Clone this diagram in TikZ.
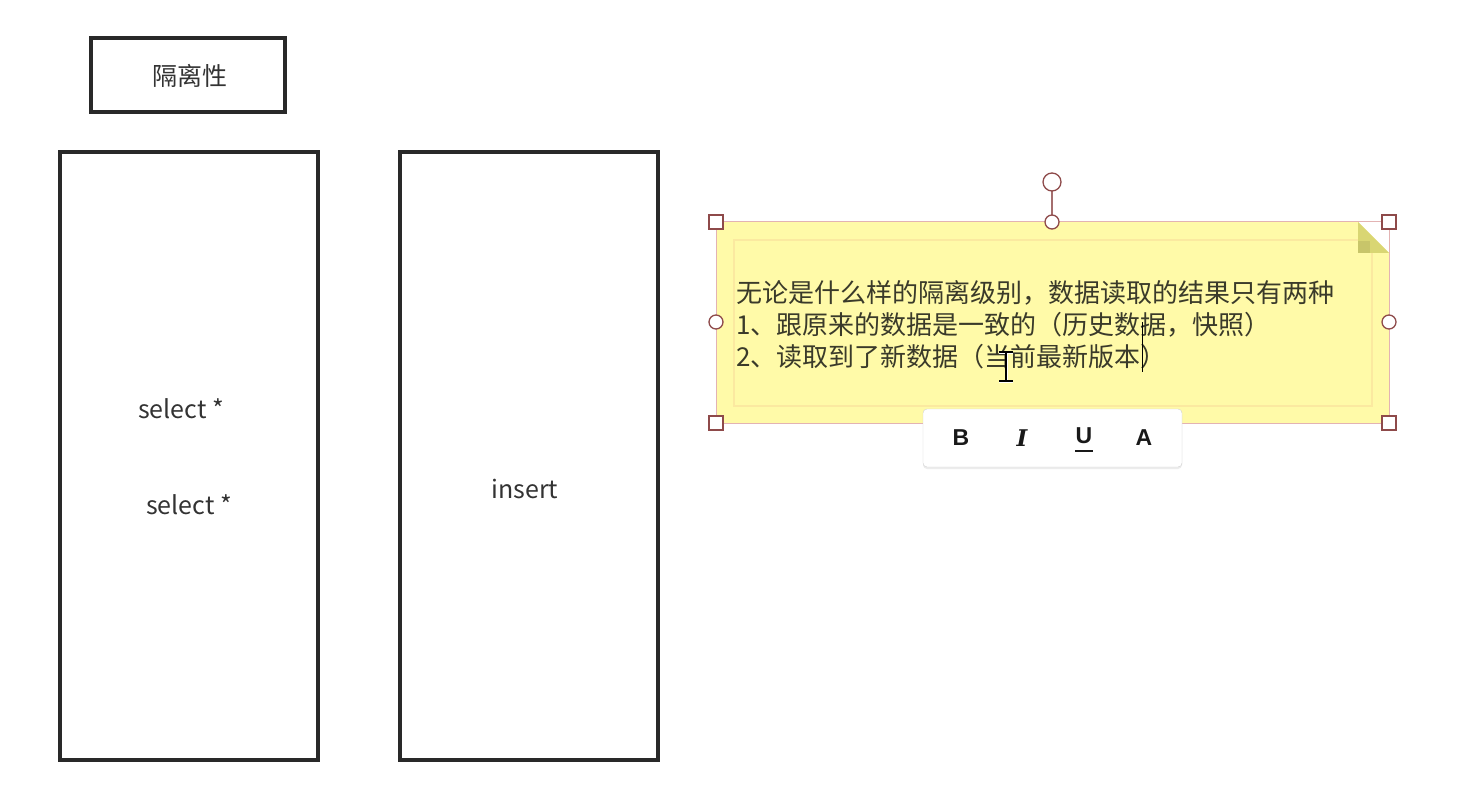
\documentclass[tikz,border=0pt]{standalone}
\usepackage{fontspec}
\setmainfont{Noto Sans CJK SC}
\newfontfamily\tbfont{Liberation Sans}
\newfontfamily\tbifont{DejaVu Serif}
\usetikzlibrary{shadows}
\definecolor{ink}{HTML}{333333}
\definecolor{notefill}{HTML}{FFFAA8}
\definecolor{noteinner}{HTML}{FBE9A0}
\definecolor{foldc}{HTML}{D9D673}
\definecolor{handle}{HTML}{8E4A4A}
\definecolor{selline}{HTML}{E3B3B3}
\definecolor{notetext}{HTML}{3A3A2A}
\tikzset{
  box/.style={draw=ink!80!black, line width=3.2pt, fill=white},
  lbl/.style={text=ink, font=\fontsize{25}{30}\selectfont, inner sep=0pt},
  notetxt/.style={text=notetext, font=\fontsize{26}{32}\selectfont, inner sep=0pt, anchor=west},
  sqhandle/.style={draw=handle, line width=1.3pt, fill=white, minimum size=14pt, inner sep=0pt, rectangle},
  cihandle/.style={draw=handle, line width=1.3pt, fill=white, minimum size=14pt, inner sep=0pt, circle},
  tb/.style={text=black!90, font=\fontsize{23}{24}\selectfont\tbfont\bfseries, inner sep=0pt}
}
\begin{document}
\begin{tikzpicture}[x=1pt,y=-1pt]
\useasboundingbox[fill=white] (0,0) rectangle (1464,810);

% boxes
\draw[box] (91,38) rectangle (285,112);
\node[lbl] (title) at (190,76) {隔离性};
\draw[box] (60,152) rectangle (318,760);
\draw[box] (400,152) rectangle (658,760);
\node[lbl] (s1) at (181,409) {select *};
\node[lbl] (s2) at (189,505) {select *};
\node[lbl] (ins) at (525,489) {insert};

% sticky note
\fill[notefill] (716,222) -- (1358,222) -- (1389,253) -- (1389,423) -- (716,423) -- cycle;
\draw[noteinner, line width=2pt] (734,240) rectangle (1372,406);
\fill[foldc] (1358,222) -- (1389,253) -- (1358,253) -- cycle;
\fill[foldc!85!black, opacity=0.5] (1358,241) rectangle (1370,253);
% selection outline
\draw[selline, line width=1pt] (716,222) rectangle (1389,423);
\draw[handle!80, line width=1.6pt] (1052,191) -- (1052,215);
\node[cihandle, minimum size=18pt] (rot) at (1052,182) {};
\node[sqhandle] (h1) at (716,222) {};
\node[sqhandle] (h2) at (1389,222) {};
\node[sqhandle] (h3) at (716,423) {};
\node[sqhandle] (h4) at (1389,423) {};
\node[cihandle] (c1) at (1052,222) {};
\node[cihandle] (c2) at (716,322) {};
\node[cihandle] (c3) at (1389,322) {};

\node[notetxt] (l1) at (736,293) {无论是什么样的隔离级别，数据读取的结果只有两种};
\node[notetxt] (l2) at (736,325) {1、跟原来的数据是一致的（历史数据，快照）};
\node[notetxt] (l3) at (736,357) {2、读取到了新数据（当前最新版本）};

% text caret and I-beam cursor
\draw[black, line width=0.8pt] (1142,322) -- (1142,372);
\draw[white, line width=3pt] (1006,353) -- (1006,380) (999,352) -- (1013,352) (999,381) -- (1013,381);
\draw[black, line width=1.8pt] (1006,353) -- (1006,380) (999,352) -- (1013,352) (999,381) -- (1013,381);

% toolbar
\node[draw=black!18, fill=white, rounded corners=4pt, minimum width=259pt, minimum height=58pt,
      drop shadow={shadow xshift=0pt, shadow yshift=-2pt, opacity=0.15}] (bar) at (1052.5,438) {};
\node[tb] (bB) at (961,438) {B};
\node[tb, font=\fontsize{23}{24}\selectfont\tbifont\bfseries\itshape] (bI) at (1022,438) {I};
\node[tb] (bU) at (1084,436) {U};
\draw[black!90, line width=2pt] (1075,451) -- (1093,451);
\node[tb] (bA) at (1144,438) {A};
\end{tikzpicture}
\end{document}
